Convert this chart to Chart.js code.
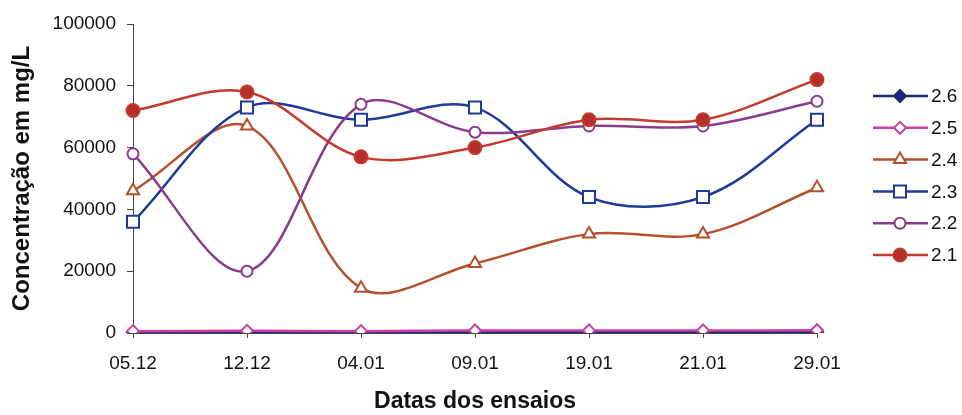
<!DOCTYPE html>
<html>
<head>
<meta charset="utf-8">
<script src="https://cdn.jsdelivr.net/npm/chart.js@4/dist/chart.umd.min.js"></script>
<style>
  html, body { margin: 0; padding: 0; background: #ffffff; }
  #wrap { width: 962px; height: 415px; position: relative; }
</style>
</head>
<body>
<div id="wrap"><canvas id="chart"></canvas></div>
<script>
// Sampling dates
const dates = ['05.12', '12.12', '04.01', '09.01', '19.01', '21.01', '29.01'];

// Concentration (mg/L) per sample
const s26 = [150, 200, 150, 300, 250, 250, 300];
const s25 = [600, 700, 600, 800, 800, 800, 900];
const s24 = [46000, 67000, 14500, 22500, 32000, 32000, 47000];
const s23 = [36000, 73000, 69000, 73000, 44000, 44000, 69000];
const s22 = [58000, 20000, 74000, 65000, 67000, 67000, 75000];
const s21 = [72000, 78000, 57000, 60000, 69000, 69000, 82000];

const seriesNames = ['2.6', '2.5', '2.4', '2.3', '2.2', '2.1'];
const yTickValues = [0, 20000, 40000, 60000, 80000, 100000];

const FONT = '"Liberation Sans", Arial, sans-serif';

// 'order' makes 2.6 paint first and 2.1 last (on top)
function series(label, data, color, fill, style, radius, order) {
  return {
    label, data, order,
    borderColor: color,
    borderWidth: 2.5,
    tension: 0.35,
    pointStyle: style,
    pointRadius: radius,
    pointHoverRadius: radius,
    pointBorderWidth: 2,
    pointBorderColor: color,
    pointBackgroundColor: fill,
    fill: false
  };
}

const datasets = [
  series(seriesNames[0], s26, '#1c2a78', '#1c2a78', 'rectRot', 6, 6),
  series(seriesNames[1], s25, '#c93fa3', '#ffffff', 'rectRot', 6, 5),
  series(seriesNames[2], s24, '#b4502c', '#ffffff', 'triangle', 7, 4),
  series(seriesNames[3], s23, '#1f3a98', '#ffffff', 'rect', 8.5, 3),
  series(seriesNames[4], s22, '#8a3b8c', '#ffffff', 'circle', 5.5, 2),
  series(seriesNames[5], s21, '#c43a2c', '#b3302a', 'circle', 6.5, 1)
];

// Legend on the right: line sample with the marker in its middle, then the name
const sideLegend = {
  id: 'sideLegend',
  afterDraw(chart) {
    const ctx = chart.ctx;
    const x0 = 873, x1 = 928, xm = 900, tx = 931;
    const top = 96, step = 31.8;
    ctx.save();
    chart.data.datasets.forEach((ds, i) => {
      const y = top + i * step;
      ctx.beginPath();
      ctx.strokeStyle = ds.borderColor;
      ctx.lineWidth = ds.borderWidth;
      ctx.moveTo(x0, y);
      ctx.lineTo(x1, y);
      ctx.stroke();
      ctx.fillStyle = ds.pointBackgroundColor;
      ctx.strokeStyle = ds.pointBorderColor;
      ctx.lineWidth = ds.pointBorderWidth;
      Chart.helpers.drawPoint(ctx, {
        pointStyle: ds.pointStyle,
        radius: ds.pointRadius,
        rotation: 0,
        borderWidth: ds.pointBorderWidth
      }, xm, y);
      ctx.fillStyle = '#111111';
      ctx.font = '19px ' + FONT;
      ctx.textAlign = 'left';
      ctx.textBaseline = 'middle';
      ctx.fillText(ds.label, tx, y + 1);
    });
    ctx.restore();
  }
};

new Chart(document.getElementById('chart'), {
  type: 'line',
  data: { labels: dates, datasets },
  options: {
    responsive: true,
    maintainAspectRatio: false,
    animation: false,
    events: [],
    layout: { padding: { left: 0, right: 145, top: 24, bottom: 0 } },
    plugins: {
      legend: { display: false },
      tooltip: { enabled: false }
    },
    scales: {
      x: {
        type: 'category',
        offset: false,
        afterFit(scale) { scale.height = 82; },
        border: { display: true, color: '#444444', width: 1 },
        grid: { drawOnChartArea: false, drawTicks: true, tickLength: 5, color: '#444444' },
        ticks: { color: '#111111', font: { family: FONT, size: 19 }, padding: 14, maxRotation: 0, autoSkip: false },
        title: {
          display: true,
          text: 'Datas dos ensaios',
          color: '#111111',
          font: { family: FONT, size: 23, weight: 'bold' },
          padding: { top: 4, bottom: 0 }
        }
      },
      y: {
        min: yTickValues[0],
        max: yTickValues[yTickValues.length - 1],
        afterFit(scale) { scale.width = 133; },
        afterBuildTicks(scale) { scale.ticks = yTickValues.map(v => ({ value: v })); },
        border: { display: true, color: '#444444', width: 1 },
        grid: { drawOnChartArea: false, drawTicks: true, tickLength: 6, color: '#444444' },
        ticks: {
          color: '#111111',
          font: { family: FONT, size: 19 },
          padding: 11,
          callback: v => String(v)
        },
        title: {
          display: true,
          text: 'Concentração em mg/L',
          color: '#111111',
          font: { family: FONT, size: 24, weight: 'bold' },
          padding: { top: 8, bottom: 0 }
        }
      }
    }
  },
  plugins: [sideLegend]
});
</script>
</body>
</html>
